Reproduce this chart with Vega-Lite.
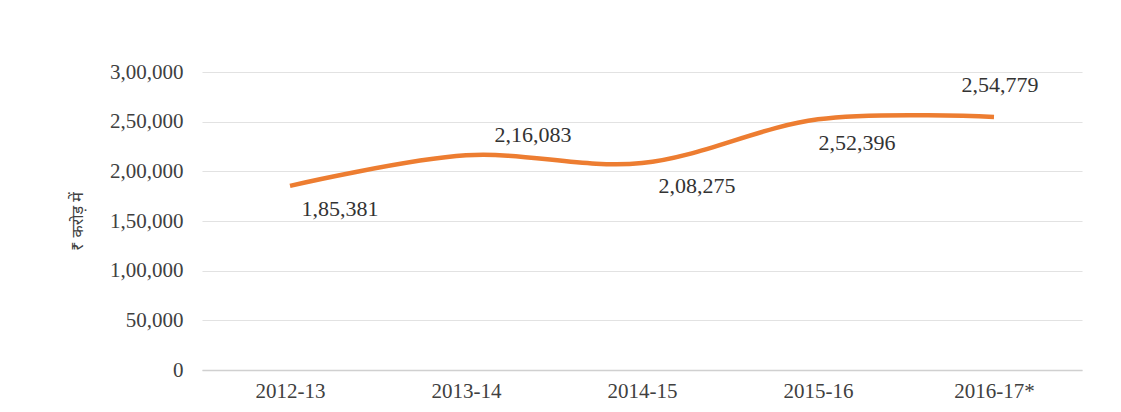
{
  "$schema": "https://vega.github.io/schema/vega-lite/v6.json",
  "width": 880,
  "height": 298,
  "autosize": {"type": "none"},
  "padding": {"left": 202, "top": 72, "right": 39, "bottom": 42},
  "background": "white",
  "config": {
    "view": {"stroke": null},
    "font": "Liberation Serif",
    "axis": {"labelFont": "Liberation Serif", "titleFont": "Liberation Serif"}
  },
  "data": {
    "values": [
      {"year": "2012-13", "value": 185381},
      {"year": "2013-14", "value": 216083},
      {"year": "2014-15", "value": 208275},
      {"year": "2015-16", "value": 252396},
      {"year": "2016-17*", "value": 254779}
    ]
  },
  "transform": [
    {"calculate": "datum.value >= 100000 ? floor(datum.value/100000) + ',' + substring(format(datum.value % 100000, '05'), 0, 2) + ',' + substring(format(datum.value % 100000, '05'), 2, 5) : format(datum.value, ',')", "as": "label"}
  ],
  "encoding": {
    "x": {
      "field": "year",
      "type": "ordinal",
      "sort": null,
      "scale": {"type": "point", "padding": 0.5},
      "axis": {
        "title": null,
        "labelAngle": 0,
        "labelFontSize": 21,
        "labelColor": "#404040",
        "labelPadding": 10,
        "ticks": false,
        "domainColor": "#d0d0d0",
        "domainWidth": 1.5
      }
    },
    "y": {
      "field": "value",
      "type": "quantitative",
      "scale": {"domain": [0, 300000]},
      "axis": {
        "title": "₹ करोड़ में",
        "titleFontSize": 16,
        "titleFont": "Noto Sans",
        "titleFontWeight": "normal",
        "titleColor": "#404040",
        "titlePadding": 24,
        "values": [0, 50000, 100000, 150000, 200000, 250000, 300000],
        "labelExpr": "datum.value >= 100000 ? floor(datum.value/100000) + ',' + substring(format(datum.value % 100000, '05'), 0, 2) + ',' + substring(format(datum.value % 100000, '05'), 2, 5) : format(datum.value, ',')",
        "labelFontSize": 21,
        "labelColor": "#404040",
        "labelPadding": 19,
        "ticks": false,
        "domain": false,
        "grid": true,
        "gridColor": "#e2e2e2",
        "gridWidth": 1.2
      }
    }
  },
  "layer": [
    {
      "mark": {"type": "line", "interpolate": "catmull-rom", "color": "#ED7D31", "strokeWidth": 4.5}
    },
    {
      "transform": [{"filter": "datum.year == '2012-13'"}],
      "mark": {"type": "text", "fontSize": 22, "color": "#333333", "dx": 50, "dy": 23},
      "encoding": {"text": {"field": "label"}}
    },
    {
      "transform": [{"filter": "datum.year == '2013-14'"}],
      "mark": {"type": "text", "fontSize": 22, "color": "#333333", "dx": 67, "dy": -20},
      "encoding": {"text": {"field": "label"}}
    },
    {
      "transform": [{"filter": "datum.year == '2014-15'"}],
      "mark": {"type": "text", "fontSize": 22, "color": "#333333", "dx": 55, "dy": 23},
      "encoding": {"text": {"field": "label"}}
    },
    {
      "transform": [{"filter": "datum.year == '2015-16'"}],
      "mark": {"type": "text", "fontSize": 22, "color": "#333333", "dx": 39, "dy": 24},
      "encoding": {"text": {"field": "label"}}
    },
    {
      "transform": [{"filter": "datum.year == '2016-17*'"}],
      "mark": {"type": "text", "fontSize": 22, "color": "#333333", "dx": 6, "dy": -32},
      "encoding": {"text": {"field": "label"}}
    }
  ]
}
